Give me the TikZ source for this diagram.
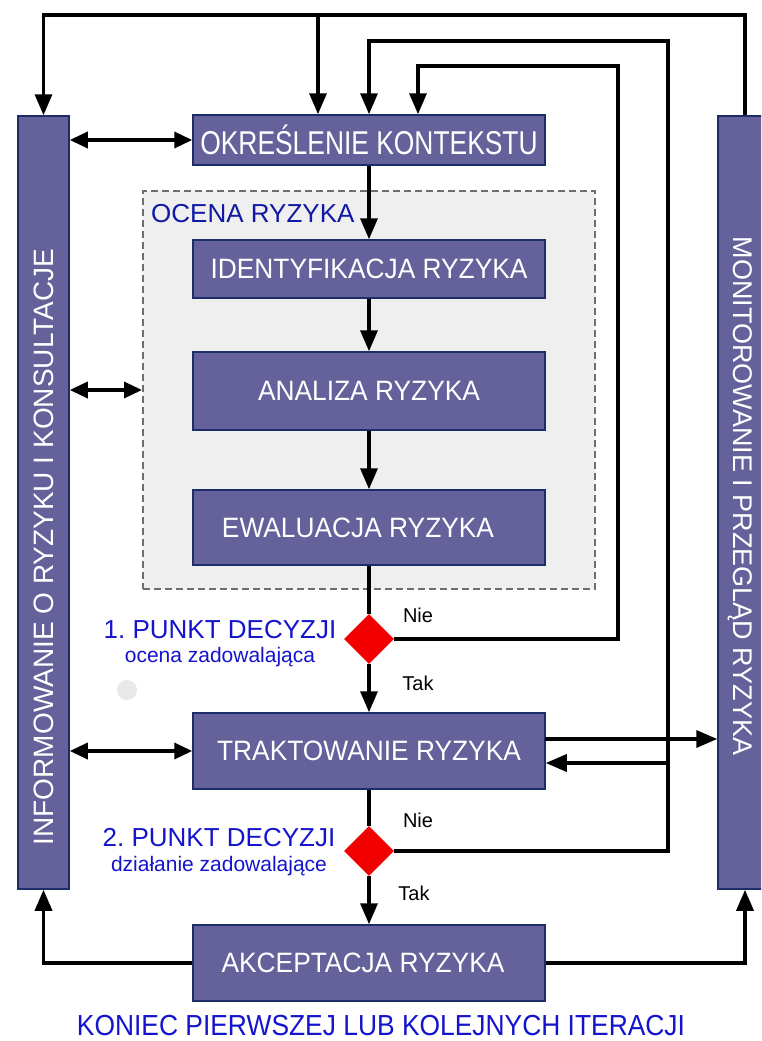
\documentclass[tikz,border=0pt]{standalone}
\usepackage{fontspec}
\setmainfont{Liberation Sans}
\newfontfamily\boxfont[FakeStretch=0.94]{Liberation Sans}
\newfontfamily\ctxfont[FakeStretch=0.80]{Liberation Sans}
\newfontfamily\endfont[FakeStretch=0.91]{Liberation Sans}
\usetikzlibrary{arrows.meta,shapes.geometric}
\definecolor{boxfill}{RGB}{101,97,155}
\definecolor{boxline}{RGB}{28,45,105}
\definecolor{lblue}{RGB}{20,20,205}
\definecolor{dblue}{RGB}{15,25,165}
\definecolor{panel}{RGB}{239,239,239}
\definecolor{dashgray}{RGB}{110,110,110}
\definecolor{dotgray}{RGB}{232,232,232}
\frenchspacing

\begin{document}
\begin{tikzpicture}[x=1pt,y=-1pt,
  stepbox/.style={draw=boxline, line width=1.5pt, fill=boxfill, text=white,
    inner sep=0pt, minimum width=352pt, font=\boxfont\fontsize{28}{30}\selectfont},
  sidebar/.style={draw=boxline, line width=1.5pt, fill=boxfill, inner sep=0pt,
    minimum height=773pt},
  sidetext/.style={text=white, inner sep=0pt, font=\fontsize{27}{29}\selectfont},
  decision/.style={diamond, fill=red!95!black, draw=none, inner sep=0pt,
    minimum width=50pt, minimum height=50pt},
  conn/.style={line width=3.4pt, draw=black},
  arr/.style={conn, -{Triangle[length=21pt,width=17pt]}},
  darr/.style={conn, {Triangle[length=18pt,width=16pt]}-{Triangle[length=18pt,width=16pt]}},
  dtitle/.style={text=lblue, inner sep=0pt, font=\fontsize{26}{28}\selectfont},
  dsub/.style={text=lblue, inner sep=0pt, font=\fontsize{21}{23}\selectfont},
  answer/.style={text=black, inner sep=0pt, font=\fontsize{20}{22}\selectfont}]

\useasboundingbox (0,0) rectangle (761,1041);
\fill[white] (0,0) rectangle (761,1041);

% risk assessment panel
\node[draw=dashgray, dashed, dash pattern=on 7pt off 4pt, line width=2pt, fill=panel,
      minimum width=452pt, minimum height=398pt, inner sep=0pt] (ocena) at (369,390) {};
\node[anchor=west, text=dblue, inner sep=0pt, font=\fontsize{26}{28}\selectfont]
      (ocenalbl) at (151,214) {OCENA RYZYKA};

% side bars
\node[sidebar, minimum width=51pt] (inf) at (43.5,502.5) {};
\node[sidetext, rotate=90, font=\fontsize{28}{30}\selectfont] (inftxt) at (43.5,547) {INFORMOWANIE O RYZYKU I KONSULTACJE};
\begin{scope}
  \clip (0,0) rectangle (761,1041);
  \node[sidebar, minimum width=48pt] (mon) at (742,502.5) {};
\end{scope}
\node[sidetext, rotate=-90] (montxt) at (740,496) {MONITOROWANIE I PRZEGLĄD RYZYKA};

% process steps
\node[stepbox, minimum height=50pt, font=\ctxfont\fontsize{33}{35}\selectfont] (ctx) at (369,140) {OKREŚLENIE KONTEKSTU};
\node[stepbox, minimum height=58pt] (idn) at (369,269) {IDENTYFIKACJA RYZYKA};
\node[stepbox, minimum height=78pt] (ana) at (369,391) {ANALIZA RYZYKA};
\node[stepbox, minimum height=75pt] (ewa) at (369,527.5) {\hspace*{-22pt}EWALUACJA RYZYKA};
\node[decision] (d1) at (369,639) {};
\node[stepbox, minimum height=76pt] (trt) at (369,751) {TRAKTOWANIE RYZYKA};
\node[decision] (d2) at (369,851) {};
\node[stepbox, minimum height=76pt] (akc) at (369,963) {\hspace*{-12pt}AKCEPTACJA RYZYKA};

% decision labels
\node[dtitle] (d1a) at (220,630) {1. PUNKT DECYZJI};
\node[dsub]   (d1b) at (220,657) {ocena zadowalająca};
\node[dtitle] (d2a) at (219,838) {2. PUNKT DECYZJI};
\node[dsub]   (d2b) at (219,866) {działanie zadowalające};
\node[answer] (n1) at (418,615) {Nie};
\node[answer] (t1) at (418,683) {Tak};
\node[answer] (n2) at (418,820) {Nie};
\node[answer] (t2) at (414,893) {Tak};

\node[text=lblue, inner sep=0pt, font=\endfont\fontsize{29}{31}\selectfont]
      (koniec) at (381,1026) {KONIEC PIERWSZEJ LUB KOLEJNYCH ITERACJI};

\fill[dotgray] (127,690) circle (10pt);

% main flow
\draw[arr]  (ctx.south) -- (idn.north);
\draw[arr]  (idn.south) -- (ana.north);
\draw[arr]  (ana.south) -- (ewa.north);
\draw[conn] (ewa.south) -- (d1.north);
\draw[arr]  (d1.south) -- (trt.north);
\draw[conn] (trt.south) -- (d2.north);
\draw[arr]  (d2.south) -- (akc.north);

% monitoring loop over the top
\coordinate (topR) at (745,15);
\coordinate (topL) at (43.5,15);
\coordinate (topC) at (318,15);
\draw[arr] (mon.north -| topR) -- (topR) -- (topL) -- (inf.north);
\draw[arr] (topC) -- (ctx.north -| topC);

% feedback from decision 2
\coordinate (fb2) at (668,41);
\coordinate (fb2t) at (668,763);
\draw[arr] (d2.east) -| (fb2) -| (ctx.north);
\draw[arr] (fb2t) -- (trt.east |- fb2t);

% feedback from decision 1
\coordinate (fb1) at (618,66);
\coordinate (fb1t) at (418,66);
\draw[arr] (d1.east) -| (fb1) -- (fb1t) -- (ctx.north -| fb1t);

% communication links
\draw[darr] (inf.east |- ctx.west) -- (ctx.west);
\draw[darr] (inf.east |- ocena.west) -- (ocena.west);
\draw[darr] (inf.east |- trt.west) -- (trt.west);

% treatment to monitoring
\coordinate (trm) at (545,739);
\draw[arr] (trm) -- (mon.west |- trm);

% acceptance to both bars
\draw[arr] (akc.west) -| (inf.south);
\draw[arr] (akc.east) -| (mon.south -| topR);

\end{tikzpicture}
\end{document}
